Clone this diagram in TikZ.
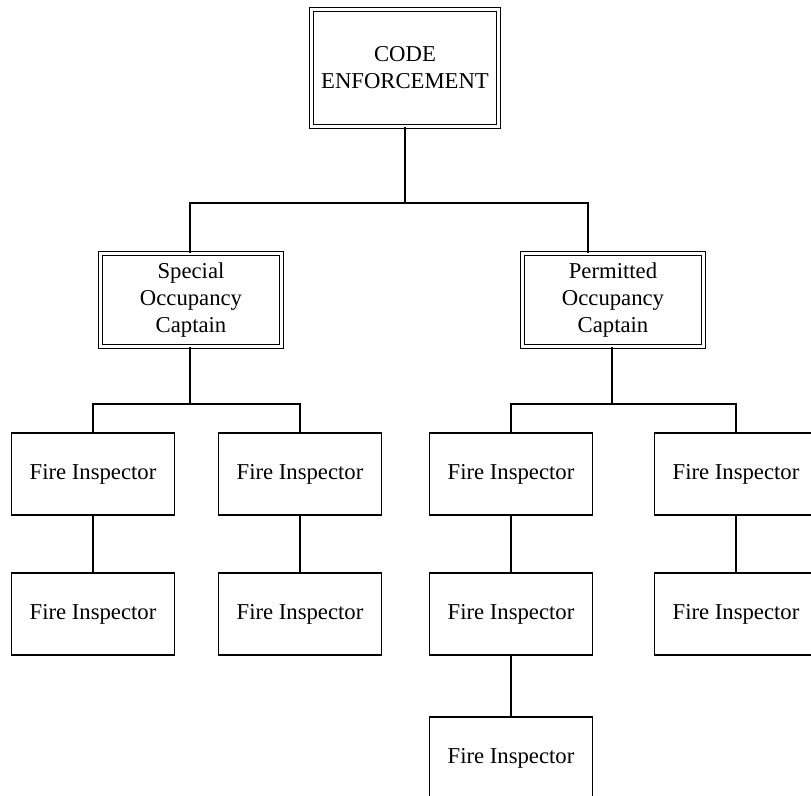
\documentclass[tikz,border=0pt]{standalone}
\usepackage{fontspec}
\setmainfont{Liberation Serif}
\usepackage{tikz}
\usetikzlibrary{positioning, calc}

\tikzset{
    hop/.style={draw, line width=1.3pt, align=center, font=\fontsize{22.7}{27}\selectfont},
    hopdoi/.style={hop, double, double distance=3pt, line width=1.2pt},
    truong/.style={hopdoi, minimum width=187pt, minimum height=117pt},
    doitruong/.style={hopdoi, minimum width=181pt, minimum height=93pt},
    thanhtra/.style={hop, minimum width=163pt, minimum height=82pt},
    noi/.style={line width=1.3pt}
}

\begin{document}
\begin{tikzpicture}[x=1pt, y=-1pt] % 1pt = 1 pixel

            % Khung hình
            \clip (0,0) rectangle (811,795);
            \fill[white] (0,0) rectangle (811,795);

            % Các ô chính
            \node[truong] (code) at (405,68) {CODE\\ENFORCEMENT}; % Ô trên cùng
            \node[doitruong] (special) at (191,300) {Special\\Occupancy\\Captain}; % Đội trưởng trái
            \node[doitruong] (permitted) at (613,300) {Permitted\\Occupancy\\Captain}; % Đội trưởng phải

            % Các ô thanh tra
            \node[thanhtra] (fiA1) at (93,474) {Fire Inspector};
            \node[thanhtra] (fiA2) at (93,614) {Fire Inspector};
            \node[thanhtra] (fiB1) at (300,474) {Fire Inspector};
            \node[thanhtra] (fiB2) at (300,614) {Fire Inspector};
            \node[thanhtra] (fiC1) at (511,474) {Fire Inspector};
            \node[thanhtra] (fiC2) at (511,614) {Fire Inspector};
            \node[thanhtra] (fiC3) at (511,758) {Fire Inspector};
            \node[thanhtra] (fiD1) at (736,474) {Fire Inspector};
            \node[thanhtra] (fiD2) at (736,614) {Fire Inspector};

            % Điểm nối
            \coordinate (busL) at (190,203);
            \coordinate (busR) at (588,203);
            \coordinate (nutA) at (190,404);
            \coordinate (nutC) at (612,404);

            % Đường nối cấp 1
            \draw[noi] (code.south) -- (code.south |- busL);
            \draw[noi] (special.north -| busL) -- (busL) -- (busR) -- (busR |- permitted.north);

            % Đường nối cấp 2
            \draw[noi] (special.south -| nutA) -- (nutA);
            \draw[noi] (fiA1.north) |- (nutA) -| (fiB1.north);
            \draw[noi] (permitted.south -| nutC) -- (nutC);
            \draw[noi] (fiC1.north) |- (nutC) -| (fiD1.north);

            % Đường nối cấp 3
            \draw[noi] (fiA1) -- (fiA2);
            \draw[noi] (fiB1) -- (fiB2);
            \draw[noi] (fiC1) -- (fiC2);
            \draw[noi] (fiC2) -- (fiC3);
            \draw[noi] (fiD1) -- (fiD2);

\end{tikzpicture}
\end{document}
